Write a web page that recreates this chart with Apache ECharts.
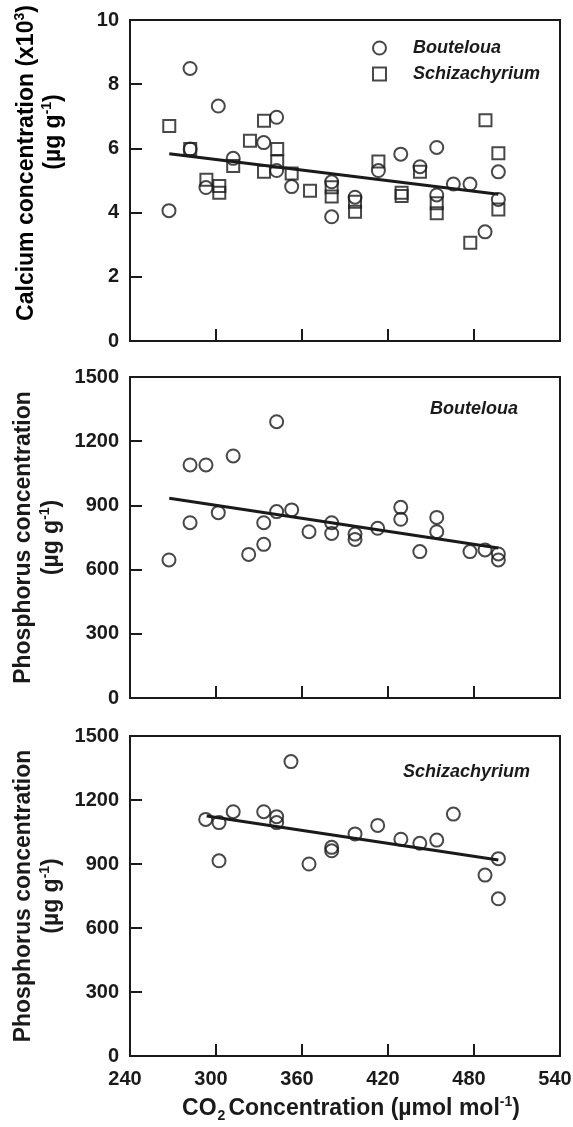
<!DOCTYPE html>
<html>
<head>
<meta charset="utf-8">
<script src="https://cdn.jsdelivr.net/npm/echarts@6/dist/echarts.min.js"></script>
<style>
html,body{margin:0;padding:0;background:#fff;}
#c{width:573px;height:1127px;}
</style>
</head>
<body>
<div id="c"></div>
<script>
// ---- Data ----
// Panel 1: Calcium concentration (x10^3 µg g-1)
const caBoutX = [267.2,281.9,301.6,293,282,312,333.3,342.3,342.3,352.8,380.7,380.7,397,413.3,428.9,442.3,454,454,465.6,477.2,487.7,497,497];
const caBoutY = [4.06,8.49,7.32,4.78,5.98,5.69,6.18,6.97,5.31,4.81,4.96,3.87,4.48,5.31,5.82,5.43,6.03,4.55,4.89,4.89,3.40,5.27,4.41];
const caSchizX = [267.4,282,293.3,302.3,302.3,312,323.7,333.5,333.5,342.7,342.7,352.8,365.6,380.7,380.7,397,397,413.3,429.5,429.5,442.3,454,454,477.4,488,497,497];
const caSchizY = [6.70,5.98,5.02,4.83,4.62,5.45,6.24,6.86,5.27,5.98,5.59,5.22,4.68,4.79,4.50,4.34,4.03,5.59,4.62,4.52,5.27,4.29,3.98,3.06,6.88,5.85,4.10];
const caFitX = [267.4, 497];
const caFitY = [5.83, 4.57];

// Panel 2: Phosphorus, Bouteloua
const pBoutX = [267.2,281.9,293,281.9,301.6,312,322.8,333.3,333.3,342.3,342.3,352.8,364.9,380.7,380.7,397,397,412.8,428.9,428.9,442.2,454,454,477.2,487.7,497,497];
const pBoutY = [645,1089,1089,819,866,1131,671,718,819,1291,871,879,777,819,769,766,741,793,891,835,684,844,777,684,692,673,645];
const pBoutFitX = [267.4, 497];
const pBoutFitY = [933, 701];

// Panel 3: Phosphorus, Schizachyrium
const pSchizX = [292.8,302.1,302.1,312,333.3,342.3,342.3,352.3,364.9,380.7,380.7,397,412.8,429,442.2,454,465.6,487.7,497,497];
const pSchizY = [1109,1094,915,1145,1145,1122,1094,1380,900,978,962,1041,1081,1016,997,1012,1134,848,925,737];
const pSchizFitX = [293.5, 497];
const pSchizFitY = [1125, 919];

// Axis ticks
const xMin = 240, xMax = 540, xStep = 60;
const caMax = 10, caStep = 2;
const pMax = 1500, pStep = 300;

const zip = (xs, ys) => xs.map((x, i) => [x, ys[i]]);

const FONT = "'Liberation Sans', Arial, Helvetica, sans-serif";
const INK = '#1a1a1a';

const panels = [
  {top: 20, height: 321},
  {top: 377, height: 321},
  {top: 736, height: 320}
];

const grids = panels.map(p => ({
  left: 130, right: 13, top: p.top, height: p.height,
  containLabel: false, outerBoundsMode: 'none',
  show: true, borderColor: INK, borderWidth: 2, backgroundColor: 'transparent'
}));

const richT = {
  t: {fontFamily: FONT, fontWeight: 'bold', fontSize: 23, color: INK, lineHeight: 28},
  sub: {fontFamily: FONT, fontWeight: 'bold', fontSize: 14, color: INK, lineHeight: 12, verticalAlign: 'bottom', padding: [0, 3, 0, 1]},
  s: {fontFamily: FONT, fontWeight: 'bold', fontSize: 14, color: INK, lineHeight: 12, verticalAlign: 'top'}
};

function xAxisFor(i, showLabels) {
  return {
    type: 'value', gridIndex: i, min: xMin, max: xMax, interval: xStep,
    axisLine: {show: true, lineStyle: {color: INK, width: 2}},
    axisTick: {show: true, inside: true, length: 12, lineStyle: {color: INK, width: 2}},
    splitLine: {show: false},
    axisLabel: {show: showLabels, margin: 13, color: INK, fontFamily: FONT, fontWeight: 'bold', fontSize: 20,
      padding: [0, 10, 0, 0], formatter: v => String(v)},
    name: showLabels ? '{t|CO}{sub|2}{t|Concentration (µmol mol}{s|-1}{t|)}' : '',
    nameLocation: 'middle', nameGap: 39,
    nameTextStyle: {padding: [0, 0, 0, 12], rich: richT}
  };
}

function yAxisFor(i, max, step, name) {
  return {
    type: 'value', gridIndex: i, min: 0, max: max, interval: step,
    axisLine: {show: true, lineStyle: {color: INK, width: 2}},
    axisTick: {show: true, inside: true, length: 12, lineStyle: {color: INK, width: 2}},
    splitLine: {show: false},
    axisLabel: {margin: 11, color: INK, fontFamily: FONT, fontWeight: 'bold', fontSize: 20,
      formatter: v => String(v)},
    name: name, nameLocation: 'middle', nameRotate: 90, nameGap: 62,
    nameTextStyle: {rich: richT}
  };
}

const markerStyle = {color: 'rgba(0,0,0,0)', borderColor: INK, borderWidth: 2};

function scatter(name, xi, data, symbol, size) {
  return {
    name: name, type: 'scatter', xAxisIndex: xi, yAxisIndex: xi,
    data: data, symbol: symbol, symbolSize: size,
    itemStyle: markerStyle, silent: true
  };
}
function fit(xi, data) {
  return {
    type: 'line', xAxisIndex: xi, yAxisIndex: xi, data: data,
    symbol: 'none', lineStyle: {color: INK, width: 3}, silent: true, z: 3
  };
}

const option = {
  animation: false,
  backgroundColor: '#fff',
  grid: grids,
  xAxis: [xAxisFor(0, false), xAxisFor(1, false), xAxisFor(2, true)],
  yAxis: [
    yAxisFor(0, caMax, caStep, ''),
    yAxisFor(1, pMax, pStep, '{t|Phosphorus concentration}\n{t|(µg g}{s|-1}{t|)}'),
    yAxisFor(2, pMax, pStep, '{t|Phosphorus concentration}\n{t|(µg g}{s|-1}{t|)}')
  ],
  legend: {
    show: true, orient: 'vertical', left: 367, top: 34,
    itemWidth: 13, itemHeight: 13, itemGap: 8,
    data: ['Bouteloua', 'Schizachyrium'],
    textStyle: {fontFamily: FONT, fontWeight: 'bold', fontStyle: 'italic', fontSize: 18, color: INK, padding: [0, 0, 0, 22], lineHeight: 14},
    selectedMode: false
  },
  graphic: [
    {type: 'text', x: 27, y: 163, rotation: Math.PI / 2,
      style: {text: '{t|Calcium concentration (x10}{s|3}{t|)}', rich: richT, align: 'center', verticalAlign: 'middle'}},
    {type: 'text', x: 54, y: 132, rotation: Math.PI / 2,
      style: {text: '{t|(µg g}{s|-1}{t|)}', rich: richT, align: 'center', verticalAlign: 'middle'}},
    {type: 'text', left: 430, top: 400, style: {text: 'Bouteloua', font: 'italic bold 18px ' + FONT, fill: INK}},
    {type: 'text', left: 403, top: 763, style: {text: 'Schizachyrium', font: 'italic bold 18px ' + FONT, fill: INK}}
  ],
  series: [
    scatter('Bouteloua', 0, zip(caBoutX, caBoutY), 'circle', 13),
    scatter('Schizachyrium', 0, zip(caSchizX, caSchizY), 'rect', 12),
    fit(0, zip(caFitX, caFitY)),
    scatter('P Bouteloua', 1, zip(pBoutX, pBoutY), 'circle', 13),
    fit(1, zip(pBoutFitX, pBoutFitY)),
    scatter('P Schizachyrium', 2, zip(pSchizX, pSchizY), 'circle', 13),
    fit(2, zip(pSchizFitX, pSchizFitY))
  ]
};

const chart = echarts.init(document.getElementById('c'), null, {renderer: 'canvas'});
chart.setOption(option);
</script>
</body>
</html>
